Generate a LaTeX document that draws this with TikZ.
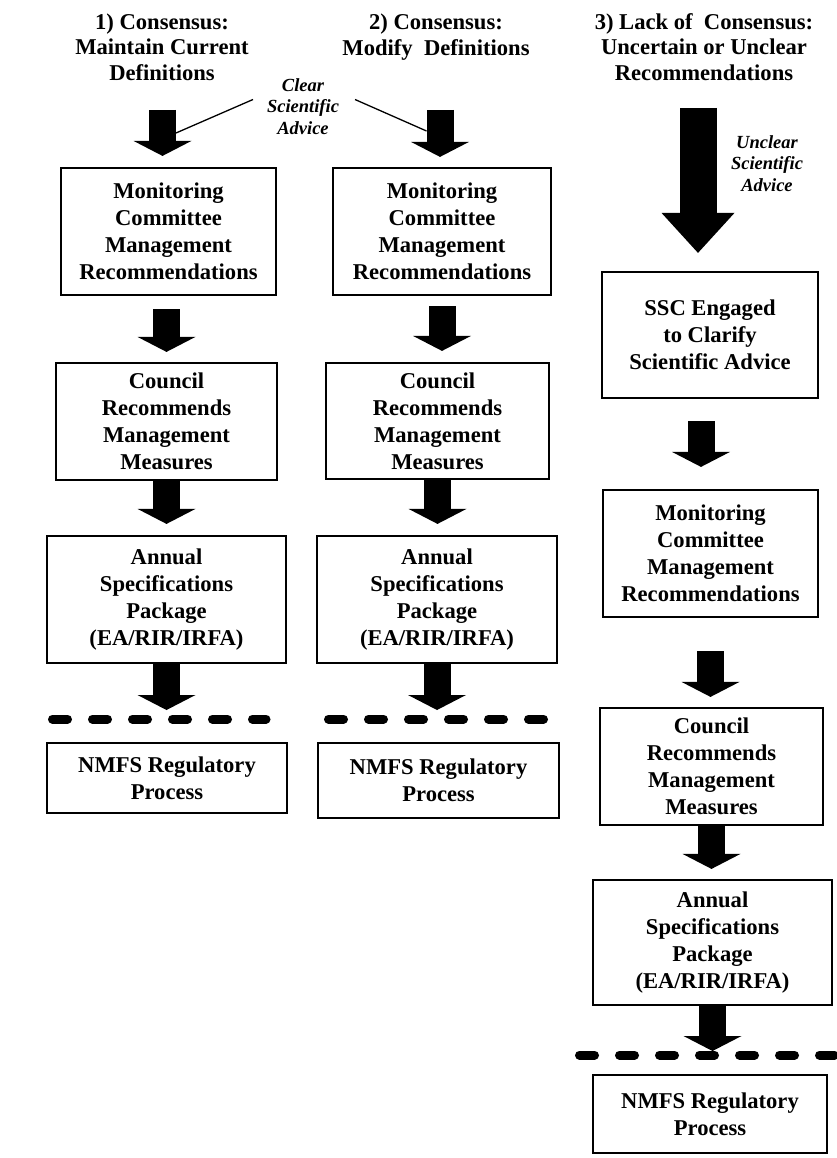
\documentclass[tikz,border=0pt]{standalone}
\usepackage{fontspec}
\setmainfont{Liberation Serif}
\usepackage{tikz}
\usetikzlibrary{arrows.meta,positioning,calc}

\newcommand{\boxfont}{\bfseries\fontsize{22.6}{27}\selectfont}
\newcommand{\headfont}{\bfseries\fontsize{22.6}{25.5}\selectfont}
\newcommand{\advicefont}{\bfseries\itshape\fontsize{18.5}{21.5}\selectfont}

\begin{document}
\begin{tikzpicture}[x=1pt,y=-1pt,
      stage/.style={rectangle,draw=black,line width=2.2pt,align=center,
                    inner sep=0pt,font=\boxfont},
      heading/.style={align=center,inner sep=0pt,font=\headfont},
      advice/.style={align=center,inner sep=0pt,font=\advicefont},
      fat/.style={line width=27pt,-{Triangle[width=58pt,length=15pt,line width=0pt]}},
      fatter/.style={line width=37pt,-{Triangle[width=73pt,length=40pt,line width=0pt]}},
      divider/.style={line width=9pt,line cap=round,dash pattern=on 15pt off 25pt},
      pointer/.style={line width=1.3pt}
    ]
    \useasboundingbox (0,0) rectangle (836,1158);

    % Headings
    \node[heading] (h1) at (162,47) {1) Consensus:\\Maintain Current\\Definitions};
    \node[heading] (h2) at (436,37) {2) Consensus:\\Modify\ \ Definitions};
    \node[heading] (h3) at (704,47) {3) Lack of\ \ Consensus:\\Uncertain or Unclear\\Recommendations};

    % Advice labels
    \node[advice] (clr) at (303,106.5) {Clear\\Scientific\\Advice};
    \node[advice] (ucl) at (767,163.5) {Unclear\\Scientific\\Advice};

    % Column 1
    \node[stage,minimum width=215pt,minimum height=127pt] (mc1) at (168.5,231.5)
      {Monitoring\\Committee\\Management\\Recommendations};
    \node[stage,minimum width=221pt,minimum height=117pt] (cr1) at (166.5,421.5)
      {Council\\Recommends\\Management\\Measures};
    \node[stage,minimum width=239pt,minimum height=127pt] (asp1) at (166.5,599.5)
      {Annual\\Specifications\\Package\\(EA/RIR/IRFA)};
    \node[stage,minimum width=240pt,minimum height=70pt] (nmfs1) at (167,778)
      {NMFS Regulatory\\Process};

    % Column 2
    \node[stage,minimum width=218pt,minimum height=127pt] (mc2) at (442,231.5)
      {Monitoring\\Committee\\Management\\Recommendations};
    \node[stage,minimum width=223pt,minimum height=116pt] (cr2) at (437.5,421)
      {Council\\Recommends\\Management\\Measures};
    \node[stage,minimum width=240pt,minimum height=127pt] (asp2) at (437,599.5)
      {Annual\\Specifications\\Package\\(EA/RIR/IRFA)};
    \node[stage,minimum width=241pt,minimum height=75pt] (nmfs2) at (438.5,780.5)
      {NMFS Regulatory\\Process};

    % Column 3
    \node[stage,minimum width=216pt,minimum height=126pt] (ssc) at (710,335)
      {SSC Engaged\\to Clarify\\Scientific Advice};
    \node[stage,minimum width=215pt,minimum height=127pt] (mc3) at (710.5,553.5)
      {Monitoring\\Committee\\Management\\Recommendations};
    \node[stage,minimum width=223pt,minimum height=117pt] (cr3) at (711.5,766.5)
      {Council\\Recommends\\Management\\Measures};
    \node[stage,minimum width=239pt,minimum height=125pt] (asp3) at (712.5,942.5)
      {Annual\\Specifications\\Package\\(EA/RIR/IRFA)};
    \node[stage,minimum width=234pt,minimum height=78pt] (nmfs3) at (710,1114)
      {NMFS Regulatory\\Process};

    % Arrow starts and divider ends
    \coordinate (top1) at (162.5,110);
    \coordinate (top2) at (440,110);
    \coordinate (top3) at (698,108);
    \coordinate (d1w) at (52.5,719);
    \coordinate (d1e) at (266,719);
    \coordinate (d2w) at (328.5,719);
    \coordinate (d2e) at (545,719);
    \coordinate (d3w) at (579.5,1055);
    \coordinate (d3e) at (840,1055);

    % Pointers from the advice label
    \draw[pointer] ([shift={(-50,-7)}]clr.center) -- ([shift={(13.5,23)}]top1);
    \draw[pointer] ([shift={(52,-7)}]clr.center) -- ([shift={(-13.5,21)}]top2);

    % Dividers
    \draw[divider] (d1w) -- (d1e);
    \draw[divider] (d2w) -- (d2e);
    \draw[divider] (d3w) -- (d3e);

    % Arrows, column 1
    \draw[fat,shorten >=11pt] (top1) -- (top1 |- mc1.north);
    \draw[fat,shorten <=13pt,shorten >=10pt] (mc1.south -| cr1.north) -- (cr1.north);
    \draw[fat,shorten >=11pt] (cr1.south) -- (cr1.south |- asp1.north);
    \draw[fat,shorten >=9pt] (asp1.south) -- (asp1.south |- d1w);

    % Arrows, column 2
    \draw[fat,shorten >=10pt] (top2) -- (top2 |- mc2.north);
    \draw[fat,shorten <=10pt,shorten >=11pt] (mc2.south) -- (mc2.south |- cr2.north);
    \draw[fat,shorten >=11pt] (cr2.south) -- (cr2.south |- asp2.north);
    \draw[fat,shorten >=9pt] (asp2.south) -- (asp2.south |- d2w);

    % Arrows, column 3
    \draw[fatter,shorten >=18pt] (top3) -- (top3 |- ssc.north);
    \draw[fat,shorten <=22pt,shorten >=22pt] ([xshift=-9pt]ssc.south) -- ([xshift=-9pt]ssc.south |- mc3.north);
    \draw[fat,shorten <=33pt,shorten >=10pt] (mc3.south) -- (mc3.south |- cr3.north);
    \draw[fat,shorten >=10pt] (cr3.south) -- (cr3.south |- asp3.north);
    \draw[fat,shorten >=4pt] (asp3.south) -- (asp3.south |- d3w);

  \end{tikzpicture}
\end{document}
